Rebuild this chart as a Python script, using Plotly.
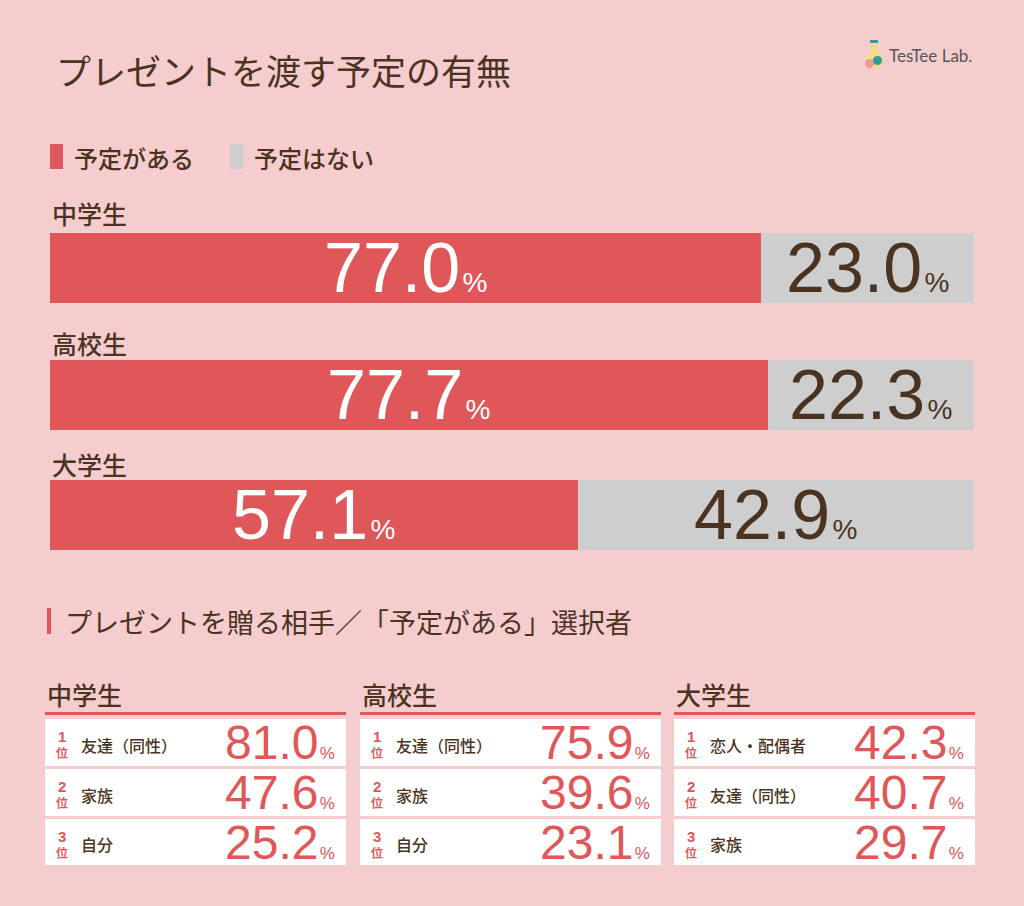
import plotly.graph_objects as go

# ---------------- data ----------------
title = "プレゼントを渡す予定の有無"
legend_labels = ["予定がある", "予定はない"]
groups = ["中学生", "高校生", "大学生"]
yes_pct = [77.0, 77.7, 57.1]
no_pct = [23.0, 22.3, 42.9]

section_title = "プレゼントを贈る相手／「予定がある」選択者"
rank_numbers = ["1", "2", "3"]
rank_suffix = "位"
jhs_items = ["友達（同性）", "家族", "自分"]
jhs_values = [81.0, 47.6, 25.2]
hs_items = ["友達（同性）", "家族", "自分"]
hs_values = [75.9, 39.6, 23.1]
uni_items = ["恋人・配偶者", "友達（同性）", "家族"]
uni_values = [42.3, 40.7, 29.7]
logo_text = "TesTee Lab."

# ---------------- style ----------------
W, H = 1024, 906
BG = "#f5cdce"
RED = "#e05759"
GRAY = "#cecece"
BROWN = "#4b3322"
WHITE = "#ffffff"
JP = "Noto Sans CJK JP, sans-serif"
NUM = "Liberation Sans, Arial, sans-serif"
HAIR = "\u200a"


def px(x):
    return x / W


def py(y):
    return 1 - y / H


bar_left, bar_right = 50, 974
bar_rows = [(233, 303), (360, 430), (480, 550)]
label_y = [213, 343, 464]

fig = go.Figure()
annotations = []
shapes = []

for i, g in enumerate(groups):
    sfx = "" if i == 0 else str(i + 1)
    xa, ya = "x" + sfx, "y" + sfx
    fig.add_trace(go.Bar(x=[yes_pct[i]], y=[g], orientation="h", width=1,
                         marker=dict(color=RED, line=dict(width=0)),
                         xaxis=xa, yaxis=ya, hoverinfo="skip", showlegend=False))
    fig.add_trace(go.Bar(x=[no_pct[i]], y=[g], orientation="h", width=1,
                         marker=dict(color=GRAY, line=dict(width=0)),
                         xaxis=xa, yaxis=ya, hoverinfo="skip", showlegend=False))
    top, bot = bar_rows[i]
    fig.update_layout(**{
        "xaxis" + sfx: dict(domain=[px(bar_left), px(bar_right)], range=[0, 100],
                            visible=False, fixedrange=True, anchor=ya),
        "yaxis" + sfx: dict(domain=[py(bot), py(top)], range=[-0.5, 0.5],
                            visible=False, fixedrange=True, anchor=xa),
    })
    annotations.append(dict(xref=xa, yref=ya, x=yes_pct[i] / 2, y=g,
                            text=f"{yes_pct[i]:.1f}<span style='font-size:28px'>{HAIR}%</span>",
                            showarrow=False, xanchor="center", yanchor="middle",
                            font=dict(family=NUM, size=70, color=WHITE)))
    annotations.append(dict(xref=xa, yref=ya, x=yes_pct[i] + no_pct[i] / 2, y=g,
                            text=f"{no_pct[i]:.1f}<span style='font-size:28px'>{HAIR}%</span>",
                            showarrow=False, xanchor="center", yanchor="middle",
                            font=dict(family=NUM, size=70, color=BROWN)))
    annotations.append(dict(xref="paper", yref="paper", x=px(50), y=py(label_y[i]),
                            text=g, showarrow=False, xanchor="left", yanchor="middle",
                            font=dict(family=JP, size=25, color=BROWN, weight=500)))

# title
annotations.append(dict(xref="paper", yref="paper", x=px(54), y=py(70), text=title,
                        showarrow=False, xanchor="left", yanchor="middle",
                        font=dict(family=JP, size=35, color=BROWN)))
# logo
annotations.append(dict(xref="paper", yref="paper", x=px(887), y=py(56), text=logo_text,
                        showarrow=False, xanchor="left", yanchor="middle",
                        font=dict(family="Lato, Liberation Sans, sans-serif", size=17, color="#555555")))
shapes += [
    dict(type="rect", xref="paper", yref="paper", x0=px(871), x1=px(877), y0=py(52), y1=py(42),
         fillcolor="#f3dc86", line=dict(width=0)),
    dict(type="rect", xref="paper", yref="paper", x0=px(870), x1=px(878), y0=py(43), y1=py(40),
         fillcolor="#2e9c9c", line=dict(width=0)),
    dict(type="circle", xref="paper", yref="paper", x0=px(866), x1=px(883), y0=py(69), y1=py(51),
         fillcolor="#f3dc86", line=dict(width=0)),
    dict(type="circle", xref="paper", yref="paper", x0=px(865), x1=px(874), y0=py(68), y1=py(59),
         fillcolor="#ef9a96", line=dict(width=0)),
    dict(type="circle", xref="paper", yref="paper", x0=px(873), x1=px(882), y0=py(65), y1=py(56),
         fillcolor="#2e9c9c", line=dict(width=0)),
]

# legend
legend_x = [(50, 72), (230, 252)]
legend_colors = [RED, GRAY]
for (sx, tx), lab, col in zip(legend_x, legend_labels, legend_colors):
    shapes.append(dict(type="rect", xref="paper", yref="paper", x0=px(sx), x1=px(sx + 13),
                       y0=py(169), y1=py(144), fillcolor=col, line=dict(width=0)))
    annotations.append(dict(xref="paper", yref="paper", x=px(tx), y=py(157), text=lab,
                            showarrow=False, xanchor="left", yanchor="middle",
                            font=dict(family=JP, size=24, color=BROWN, weight=500)))

# section title
shapes.append(dict(type="rect", xref="paper", yref="paper", x0=px(47), x1=px(51),
                   y0=py(634), y1=py(608), fillcolor=RED, line=dict(width=0)))
annotations.append(dict(xref="paper", yref="paper", x=px(63), y=py(621), text=section_title,
                        showarrow=False, xanchor="left", yanchor="middle",
                        font=dict(family=JP, size=27, color=BROWN)))

# ranking tables
col_bounds = [(45, 346), (360, 661), (674, 975)]
row_bounds = [(719, 766), (769, 816), (819, 865)]
tables = [(groups[0], jhs_items, jhs_values),
          (groups[1], hs_items, hs_values),
          (groups[2], uni_items, uni_values)]
for (cl, cr), (head, items, vals) in zip(col_bounds, tables):
    annotations.append(dict(xref="paper", yref="paper", x=px(cl), y=py(694), text=head,
                            showarrow=False, xanchor="left", yanchor="middle",
                            font=dict(family=JP, size=25, color=BROWN, weight=500)))
    shapes.append(dict(type="rect", xref="paper", yref="paper", x0=px(cl), x1=px(cr),
                       y0=py(715), y1=py(712), fillcolor=RED, line=dict(width=0)))
    for (rt, rb), rk, it, v in zip(row_bounds, rank_numbers, items, vals):
        shapes.append(dict(type="rect", xref="paper", yref="paper", x0=px(cl), x1=px(cr),
                           y0=py(rb), y1=py(rt), fillcolor=WHITE, line=dict(width=0)))
        annotations.append(dict(xref="paper", yref="paper", x=px(cl + 17), y=py(rt + 17),
                                text=f"<b>{rk}</b>", showarrow=False, xanchor="center",
                                yanchor="middle", font=dict(family=NUM, size=15, color=RED)))
        annotations.append(dict(xref="paper", yref="paper", x=px(cl + 17), y=py(rt + 33),
                                text=rank_suffix, showarrow=False, xanchor="center",
                                yanchor="middle", font=dict(family=JP, size=12, color=RED, weight=700)))
        annotations.append(dict(xref="paper", yref="paper", x=px(cl + 34), y=py((rt + rb) / 2 + 2),
                                text=it, showarrow=False, xanchor="left", yanchor="middle",
                                font=dict(family=JP, size=16, color=BROWN, weight=500)))
        annotations.append(dict(xref="paper", yref="paper", x=px(cr - 9), y=py((rt + rb) / 2),
                                text=f"{v:.1f}<span style='font-size:17px'>{HAIR}%</span>",
                                showarrow=False, xanchor="right", yanchor="middle",
                                font=dict(family=NUM, size=48, color=RED)))

fig.update_layout(
    width=W, height=H, margin=dict(l=0, r=0, t=0, b=0),
    paper_bgcolor=BG, plot_bgcolor=BG, barmode="stack", bargap=0,
    showlegend=False, annotations=annotations, shapes=shapes,
)

fig.write_html("out.html", config={"displayModeBar": False, "staticPlot": True},
               post_script="document.body.style.margin='0';document.body.style.overflow='hidden';")
